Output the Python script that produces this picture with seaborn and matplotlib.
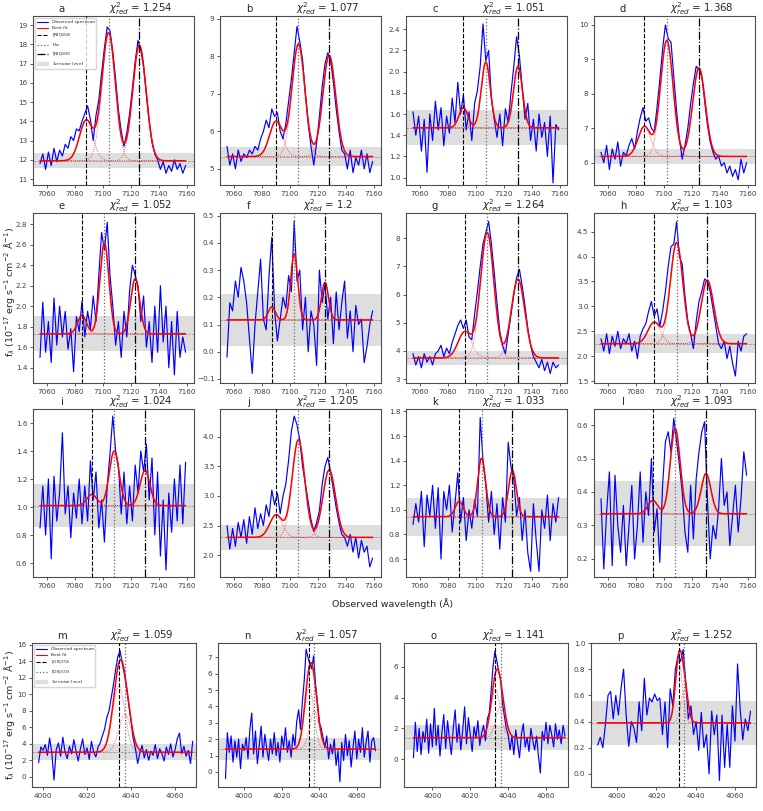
import numpy as np
import matplotlib
matplotlib.use("Agg")
import matplotlib.pyplot as plt
from matplotlib.ticker import MultipleLocator
from matplotlib.lines import Line2D
from matplotlib.patches import Patch
import seaborn as sns

sns.set_theme(style="white")
plt.rcParams["font.family"] = ["DejaVu Sans"]
plt.rcParams["mathtext.fontset"] = "dejavusans"

# --- panel meta ---
PANEL_LABELS = list("abcdefghijklmnop")
CHI2_RED = ["1.254", "1.077", "1.051", "1.368", "1.052", "1.2", "1.264", "1.103",
            "1.024", "1.205", "1.033", "1.093", "1.059", "1.057", "1.141", "1.252"]

# wavelength span of each observed spectrum (start, end)
WAVE_SPAN = [(7055, 7159)] * 12 + [(3998, 4068), (3990, 4070), (3990, 4070), (3990, 4068)]

# observed spectra (flux, 1e-17 erg/s/cm2/A)
FLUX_A = [11.8, 12.3, 11.5, 12.4, 11.7, 12.6, 11.9, 12.5, 12.2, 12.8, 12.6, 13.2, 13.0, 13.6,
          13.5, 14.0, 14.4, 14.8, 14.1, 13.0, 14.3, 15.1, 16.5, 17.8, 18.9, 18.7, 17.6, 16.2,
          14.6, 13.5, 12.7, 13.4, 14.4, 15.7, 17.1, 18.2, 17.7, 16.8, 15.4, 14.0, 12.9, 12.3,
          12.0, 11.5, 11.9, 11.3, 11.7, 11.4, 12.0, 11.5, 11.8, 11.3, 11.7]
FLUX_B = [5.6, 5.1, 5.4, 5.0, 5.5, 5.2, 5.4, 5.3, 5.5, 5.4, 5.6, 5.5, 5.8, 6.0, 6.3, 6.1,
          6.6, 6.4, 6.5, 6.0, 5.8, 6.2, 6.8, 7.4, 8.1, 8.8, 8.4, 7.9, 7.0, 6.2, 5.6, 5.1,
          5.7, 6.4, 7.2, 7.8, 8.1, 7.9, 7.3, 6.6, 6.0, 5.5, 5.4, 5.0, 5.5, 4.9, 5.3, 5.1,
          5.5, 5.0, 5.4, 4.9, 5.2]
FLUX_C = [1.62, 1.40, 1.58, 1.25, 1.55, 1.05, 1.60, 1.35, 1.72, 1.45, 1.66, 1.30, 1.58, 1.42,
          1.75, 1.52, 1.90, 1.60, 1.78, 1.45, 1.62, 1.35, 1.70, 1.82, 2.05, 2.45, 2.10, 2.20,
          1.75, 1.55, 1.38, 1.60, 1.30, 1.65, 1.52, 1.80, 2.05, 2.33, 2.15, 1.85, 1.55, 1.70,
          1.35, 1.55, 1.25, 1.60, 1.38, 1.52, 1.20, 1.58, 0.95, 1.50, 1.45]
FLUX_D = [6.3, 6.0, 6.5, 5.8, 6.4, 6.1, 6.6, 5.9, 6.3, 6.2, 6.5, 6.7, 6.4, 6.9, 7.3, 7.6,
          7.2, 7.3, 7.0, 6.9, 7.6, 8.4, 9.3, 10.0, 9.6, 9.5, 8.5, 7.5, 6.7, 6.1, 6.5, 7.0,
          7.7, 8.3, 8.8, 8.7, 8.5, 7.8, 7.1, 6.6, 6.3, 6.1, 6.2, 5.9, 6.0, 5.7, 5.9, 5.6,
          5.8, 5.5, 6.1, 5.7, 6.0]
FLUX_E = [1.50, 2.04, 1.55, 1.85, 1.45, 2.08, 1.62, 2.00, 1.70, 1.95, 1.58, 1.78, 1.36, 1.90,
          1.75, 2.05, 1.70, 1.95, 1.78, 2.10, 1.85, 2.30, 2.72, 2.55, 2.82, 2.30, 2.00, 1.62,
          1.85, 1.50, 1.95, 1.70, 2.15, 2.40, 2.30, 2.20, 1.85, 2.10, 1.60, 1.85, 1.45, 2.00,
          1.55, 2.20, 1.65, 2.00, 1.40, 1.85, 1.33, 1.95, 1.50, 1.70, 1.55]
FLUX_F = [-0.02, 0.18, 0.15, 0.26, 0.20, 0.31, 0.26, 0.18, 0.05, -0.08, 0.10, 0.22, 0.34, 0.12,
          0.08, 0.28, 0.42, 0.15, 0.04, 0.12, 0.20, 0.16, 0.28, 0.22, 0.48, 0.26, 0.30, 0.08,
          0.20, 0.00, 0.15, 0.10, -0.05, 0.30, 0.18, 0.25, 0.12, 0.20, 0.03, 0.22, 0.08, 0.18,
          0.26, 0.05, 0.15, 0.00, 0.17, 0.10, 0.12, -0.04, 0.02, 0.10, 0.15]
FLUX_G = [3.9, 3.5, 3.8, 3.4, 3.9, 3.6, 3.8, 3.5, 3.9, 4.0, 4.2, 3.8, 4.1, 3.9, 4.3, 4.6,
          4.9, 5.1, 4.8, 5.1, 4.5, 4.4, 5.3, 6.1, 7.0, 7.8, 8.2, 8.6, 7.8, 6.8, 5.7, 4.7,
          4.2, 3.9, 4.6, 5.3, 6.0, 6.6, 6.9, 6.3, 5.6, 4.8, 4.2, 3.8, 3.6, 3.4, 3.7, 3.3,
          3.6, 3.2, 3.6, 3.4, 3.5]
FLUX_H = [2.35, 2.10, 2.45, 2.05, 2.40, 2.20, 2.50, 2.15, 2.35, 2.25, 2.45, 2.10, 2.30, 1.95,
          2.40, 2.55, 2.65, 2.90, 3.10, 2.80, 2.95, 2.60, 2.90, 3.30, 3.80, 4.20, 4.25, 4.70,
          4.00, 3.85, 3.20, 2.70, 2.45, 2.15, 2.70, 3.10, 3.30, 3.55, 3.50, 3.30, 2.95, 2.60,
          2.25, 2.15, 2.30, 1.95, 2.20, 1.85, 1.60, 2.30, 2.10, 2.40, 2.45]
FLUX_I = [0.85, 1.15, 0.80, 1.20, 0.63, 1.22, 0.90, 1.10, 1.53, 0.95, 1.15, 0.78, 1.10, 0.92,
          1.20, 0.88, 1.15, 0.90, 1.33, 1.05, 1.25, 0.85, 1.05, 0.75, 1.15, 1.38, 1.65, 1.40,
          1.30, 0.95, 1.25, 0.88, 1.15, 0.90, 1.30, 1.10, 1.40, 1.25, 1.45, 1.05, 1.35, 0.80,
          1.25, 0.65, 1.05, 0.55, 1.10, 0.82, 1.20, 0.90, 1.30, 0.88, 1.32]
FLUX_J = [2.50, 2.10, 2.45, 2.15, 2.55, 2.30, 2.60, 2.20, 2.65, 2.35, 2.80, 2.45, 2.70, 2.50,
          2.85, 2.65, 3.10, 2.85, 3.05, 2.70, 3.00, 3.20, 3.60, 4.10, 4.35, 4.20, 3.95, 3.50,
          3.20, 2.90, 2.60, 2.40, 2.55, 2.75, 3.20, 3.50, 3.65, 3.40, 3.10, 2.80, 2.55, 2.35,
          2.30, 2.15, 2.35, 2.05, 2.30, 1.95, 2.25, 2.05, 2.15, 1.80, 1.95]
FLUX_K = [0.88, 1.05, 0.90, 1.15, 0.70, 1.12, 0.95, 1.20, 0.85, 1.18, 0.60, 1.15, 1.00, 1.20,
          0.82, 1.05, 1.30, 0.90, 1.10, 0.75, 1.00, 0.85, 1.08, 0.95, 1.75, 1.40, 1.20, 0.90,
          1.15, 0.80, 1.05, 0.68, 1.10, 0.90, 1.55, 1.35, 1.25, 0.95, 1.10, 0.75, 1.00, 0.65,
          0.50, 1.05, 0.75, 0.50, 1.00, 0.85, 1.12, 0.75, 1.05, 0.90, 1.10]
FLUX_L = [0.38, 0.17, 0.34, 0.46, 0.18, 0.45, 0.30, 0.22, 0.36, 0.18, 0.30, 0.42, 0.20, 0.30,
          0.46, 0.25, 0.40, 0.33, 0.50, 0.28, 0.35, 0.19, 0.42, 0.55, 0.58, 0.52, 0.62, 0.55,
          0.48, 0.40, 0.28, 0.22, 0.42, 0.26, 0.44, 0.52, 0.58, 0.61, 0.38, 0.20, 0.30, 0.26,
          0.35, 0.50, 0.36, 0.40, 0.24, 0.33, 0.42, 0.28, 0.38, 0.52, 0.45]
FLUX_M = [1.7, 3.6, 3.2, 3.9, 2.6, 4.7, 2.9, -0.4, 3.3, 4.1, 2.5, 4.8, 3.0, 2.2, 3.7, 2.8,
          4.5, 3.1, 1.9, 3.4, 4.6, 2.7, 3.5, 2.1, 4.3, 3.0, 2.4, 3.6, 4.1, 5.0, 5.8, 7.2,
          8.0, 9.6, 11.2, 13.0, 14.6, 15.3, 13.8, 12.4, 10.6, 8.7, 6.8, 4.6, 3.4, 1.6, 2.9, 3.8,
          2.3, 3.3, 2.0, 3.1, 2.6, 3.9, 2.2, 3.4, 2.8, 1.9, 3.6, 2.7, 4.0, 2.4, 3.3, 4.6,
          5.3, 2.8, 3.7, 2.5, 3.2, 1.6, 4.3]
FLUX_N = [-0.4, 2.4, 1.2, 2.2, 0.6, 1.9, 0.9, 2.0, 0.2, 1.7, 1.3, 2.1, 0.8, 2.6, 3.6, 1.1,
          2.5, 0.5, 1.6, 2.8, 0.9, 2.3, 1.4, 0.7, 2.0, 1.1, 2.4, 1.0, 1.8, 0.6, 2.2, 1.5,
          2.7, 1.2, 1.9, 0.9, 2.3, 1.6, 3.1, 3.8, 2.6, 4.3, 5.6, 7.5, 7.0, 6.6, 6.3, 7.1,
          5.4, 4.3, 3.0, 2.7, 2.1, 1.5, 2.2, 0.8, 1.7, 1.1, 2.0, 0.4, 1.3, -0.6, 1.8, 0.7,
          2.3, 1.0, 1.9, 0.3, 1.5, 2.5, 0.8, 2.0, 1.2, 2.7, 0.9, 1.8, 2.5, 0.6, 1.9, 2.1, 1.3]
FLUX_O = [0.1, 2.4, 0.5, 2.0, 0.3, 1.8, 1.1, 2.6, 0.4, 2.3, 0.8, 3.3, 0.9, 2.2, 0.2, 1.7,
          2.9, 0.7, 2.5, 1.3, 0.3, 2.0, 3.2, 1.1, 2.3, 0.6, 1.9, 3.4, 1.0, 2.7, 1.6, 0.5,
          2.1, 1.4, 2.5, 0.9, 1.7, 2.2, 1.2, 2.6, 3.0, 4.4, 6.0, 7.0, 6.4, 5.7, 5.2, 3.6,
          2.8, 2.0, 1.6, 0.6, 1.5, 0.3, 1.9, 1.0, 0.1, 1.6, 2.3, 0.8, 1.4, 0.5, 2.0, 1.2,
          0.6, 1.5, 0.2, -0.9, 1.8, 1.2, 2.4, 1.0, 2.2, 1.6, 0.8, 2.3, 1.3, 1.9, 1.0, 2.2, 1.5]
FLUX_P = [0.22, 0.28, 0.20, 0.38, 0.60, 0.63, 0.42, 0.60, 0.45, 0.65, 0.80, 0.45, 0.21, 0.40,
          0.35, 0.24, 0.55, 0.33, 0.73, 0.45, 0.58, 0.55, 0.61, 0.56, 0.58, 0.30, 0.55, 0.20,
          0.65, 0.52, 0.80, 0.90, 0.86, 0.95, 0.70, 0.42, 0.52, 0.30, 0.40, 0.18, 0.47, 0.20,
          0.30, 0.00, 0.48, 0.30, 0.45, -0.05, 0.45, 0.05, 0.38, 0.05, 0.52, 0.25, 0.84, 0.50,
          0.26, 0.42, 0.33, 0.48]
FLUXES = [FLUX_A, FLUX_B, FLUX_C, FLUX_D, FLUX_E, FLUX_F, FLUX_G, FLUX_H,
          FLUX_I, FLUX_J, FLUX_K, FLUX_L, FLUX_M, FLUX_N, FLUX_O, FLUX_P]

# best-fit parameters: continuum, 1-sigma noise, line centres, amplitudes, gaussian sigma
CONTINUUM = [11.95, 5.33, 1.47, 6.18, 1.73, 0.117, 3.75, 2.25,
             1.01, 2.30, 0.945, 0.335, 2.97, 1.40, 1.40, 0.39]
NOISE = [0.38, 0.25, 0.165, 0.22, 0.17, 0.097, 0.25, 0.19,
         0.152, 0.21, 0.155, 0.097, 0.95, 0.70, 0.81, 0.17]
LINE_CENTRES = [(7088, 7104, 7126), (7090, 7106, 7128), (7091, 7107, 7130), (7086, 7102, 7125),
                (7085, 7101, 7123), (7087, 7103, 7125), (7092, 7108, 7130), (7093, 7109, 7131),
                (7092, 7108, 7130), (7090, 7106, 7128), (7088, 7104, 7126), (7092, 7108, 7130),
                (4034.4, 4037.2), (4034.6, 4037.4), (4033.3, 4036.0), (4031.4, 4034.3)]
LINE_AMPS = [(2.1, 6.65, 6.0), (0.94, 3.0, 2.7), (0.19, 0.62, 0.58), (0.87, 3.37, 2.57),
             (0.18, 0.89, 0.54), (0.048, 0.243, 0.138), (0.93, 4.45, 2.8), (0.43, 2.03, 1.27),
             (0.08, 0.39, 0.25), (0.38, 1.65, 1.14), (0.125, 0.475, 0.375), (0.04, 0.255, 0.12),
             (8.0, 4.6), (3.8, 2.3), (3.1, 2.0), (0.47, 0.25)]
LINE_SIGMA = [4.8, 4.6, 3.2, 4.5, 3.2, 2.5, 4.8, 4.5, 3.5, 4.5, 2.8, 3.5, 2.8, 2.5, 2.5, 1.8]

# axis limits and y tick steps
Y_LIMITS = [(10.69, 19.47), (4.57, 9.08), (0.93, 2.525), (5.35, 10.26),
            (1.25, 2.91), (-0.115, 0.51), (2.86, 8.9), (1.46, 4.875),
            (0.50, 1.70), (1.63, 4.47), (0.454, 1.82), (0.146, 0.648),
            (-1.25, 16.24), (-0.92, 7.88), (-1.8, 7.54), (-0.1, 1.0)]
Y_STEPS = [1, 1, 0.2, 1, 0.2, 0.1, 1, 0.5, 0.2, 0.5, 0.2, 0.1, 2, 1, 2, 0.2]
X_LIMITS = [(7050, 7165)] * 12 + [(3995, 4069.5), (3986, 4072.4), (3985, 4071.6), (3986.6, 4070.8)]

HA_LEGEND = ["Observed spectrum", "Best fit", r"[NII]$_{6548}$", r"H$\alpha$",
             r"[NII]$_{6583}$", r"1$\sigma$ noise level"]
OII_LEGEND = ["Observed spectrum", "Best fit", r"[OII]$_{3726}$", r"[OII]$_{3729}$",
              r"1$\sigma$ noise level"]

W, H = 763, 811
fig = plt.figure(figsize=(W / 100, H / 100), dpi=100)

def px_axes(left, top, right, bottom):
    return fig.add_axes([left / W, 1 - bottom / H, (right - left) / W, (bottom - top) / H])

col_px = [(33, 194), (220, 381), (406, 567), (594, 755)]
row_px = [(16, 185), (213, 383), (409, 577)]
bottom_cols = [(32, 196), (218, 380), (404, 568), (591, 756)]

vline_styles = [dict(color="black", ls="--", lw=0.8),
                dict(color="0.4", ls=":", lw=0.9),
                dict(color="black", ls="-.", lw=0.9)]

axes = []
for i in range(16):
    if i < 12:
        l, r = col_px[i % 4]
        t, b = row_px[i // 4]
    else:
        l, r = bottom_cols[i - 12]
        t, b = 643, 787
    ax = px_axes(l, t, r, b)
    axes.append(ax)

    cont, noise, sig = CONTINUUM[i], NOISE[i], LINE_SIGMA[i]
    w0, w1 = WAVE_SPAN[i]
    flux = np.array(FLUXES[i])
    wave = np.linspace(w0, w1, len(flux))

    ax.axhspan(cont - noise, cont + noise, color="#dedede", lw=0, zorder=0)
    ax.axhline(cont, color="0.55", ls="--", lw=0.5, zorder=1)

    sns.lineplot(x=wave, y=flux, ax=ax, color="blue", lw=0.85, zorder=2)

    grid = np.linspace(w0, w1, 600)
    comps = [a * np.exp(-(grid - c) ** 2 / (2 * sig ** 2))
             for c, a in zip(LINE_CENTRES[i], LINE_AMPS[i])]
    for comp in comps:
        ax.plot(grid, cont + comp, color="red", ls=":", lw=0.6, alpha=0.8, zorder=3)
    ax.plot(grid, cont + np.sum(comps, axis=0), color="red", lw=1.1, zorder=4)

    for c, st in zip(LINE_CENTRES[i], vline_styles):
        ax.axvline(c, zorder=5, **st)

    ax.set_xlim(*X_LIMITS[i])
    ax.set_ylim(*Y_LIMITS[i])
    ax.yaxis.set_major_locator(MultipleLocator(Y_STEPS[i]))
    ax.xaxis.set_major_locator(MultipleLocator(20))
    ax.tick_params(bottom=True, left=True, direction="out", labelsize=5.2,
                   length=2.5, width=0.6, pad=1.5, colors="0.25")
    for sp in ax.spines.values():
        sp.set_color("0.3")
        sp.set_linewidth(0.8)

    ax.text(0.18, 1.025, PANEL_LABELS[i], transform=ax.transAxes,
            ha="center", va="baseline", fontsize=7.3)
    ax.text(0.67, 1.025, r"$\chi^2_{red}$ = " + CHI2_RED[i], transform=ax.transAxes,
            ha="center", va="baseline", fontsize=7.3)

# legends
ha_handles = [Line2D([], [], color="blue", lw=0.8), Line2D([], [], color="red", lw=0.8),
              Line2D([], [], **vline_styles[0]), Line2D([], [], **vline_styles[1]),
              Line2D([], [], **vline_styles[2]), Patch(color="#dedede")]
axes[0].legend(ha_handles, HA_LEGEND, loc="upper left", fontsize=3.2, frameon=True,
               handlelength=2.5, borderpad=0.4, labelspacing=0.45, fancybox=False,
               edgecolor="0.8")
oii_handles = ha_handles[:4] + [ha_handles[5]]
axes[12].legend(oii_handles, OII_LEGEND, loc="upper left", fontsize=3.2, frameon=True,
                handlelength=2.5, borderpad=0.4, labelspacing=0.45, fancybox=False,
                edgecolor="0.8")

ylab = r"f$_\lambda$ (10$^{-17}$ erg s$^{-1}$ cm$^{-2}$ Å$^{-1}$)"
fig.text(10 / W, 1 - 292 / H, ylab, rotation=90, ha="center", va="center", fontsize=6.8)
fig.text(10 / W, 1 - 715 / H, ylab, rotation=90, ha="center", va="center", fontsize=6.8)
fig.text(393 / W, 1 - 604 / H, "Observed wavelength (Å)", ha="center", va="center", fontsize=6.8)

fig.savefig("out.png", dpi=100)
